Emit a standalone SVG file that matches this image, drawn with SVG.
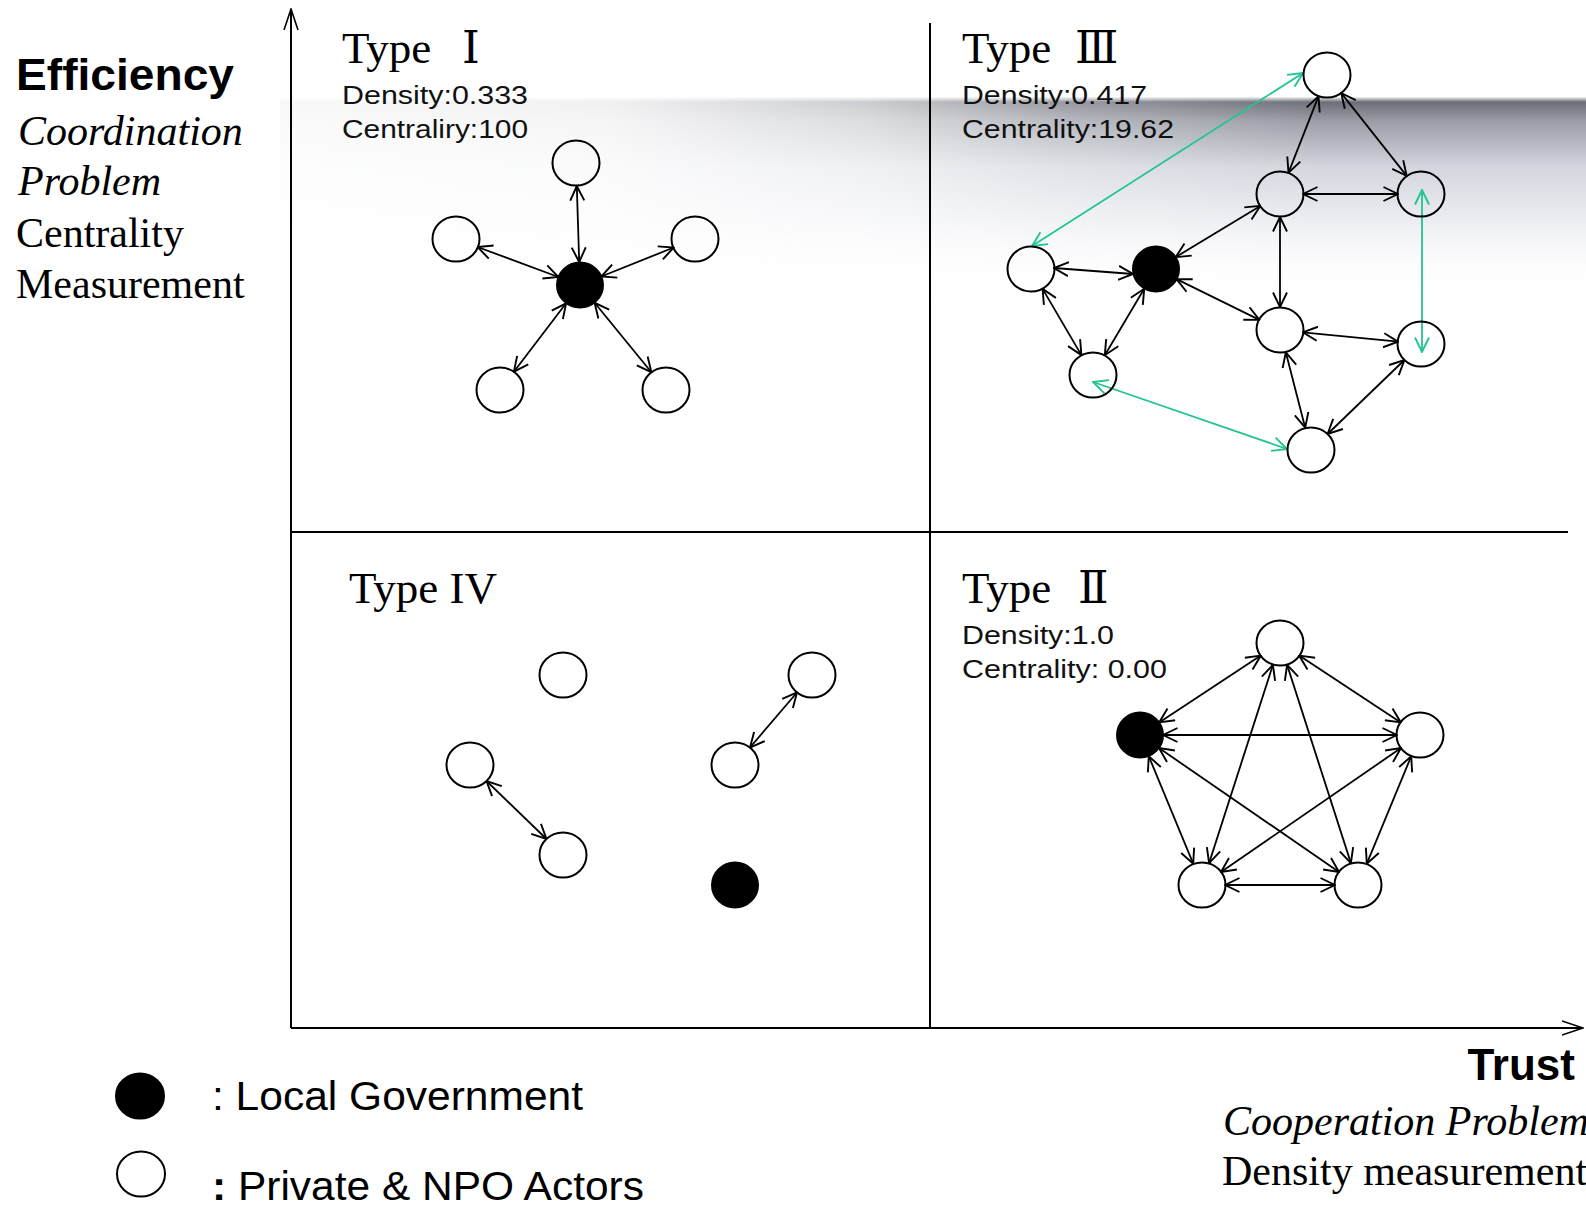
<svg xmlns="http://www.w3.org/2000/svg" width="1586" height="1209" viewBox="0 0 1586 1209">
<style>
.serif{font-family:"Liberation Serif","DejaVu Serif","Noto Sans CJK KR",serif;fill:#000}
.sans{font-family:"Liberation Sans","DejaVu Sans",sans-serif;fill:#000}
.title{font-size:45px}
.stat{font-size:26px;fill:#111}
.axis{font-size:42px}
.node{fill:none;stroke:#000;stroke-width:2}
.gov{fill:#000;stroke:#000;stroke-width:2}
.edge{stroke:#000;stroke-width:1.8;fill:none;marker-start:url(#ah);marker-end:url(#ah)}
.gedge{stroke:#22c493;stroke-width:1.8;fill:none;marker-start:url(#ahg);marker-end:url(#ahg)}
.frame{stroke:#000;stroke-width:2;fill:none}
</style>
<defs>
<marker id="ah" viewBox="0 0 16 16" refX="15" refY="8" markerWidth="16" markerHeight="16" markerUnits="userSpaceOnUse" orient="auto-start-reverse">
<path d="M0.5,1 L15,8 L0.5,15" fill="none" stroke="#000" stroke-width="1.9"/>
</marker>
<marker id="ahg" viewBox="0 0 16 16" refX="15" refY="8" markerWidth="16" markerHeight="16" markerUnits="userSpaceOnUse" orient="auto-start-reverse">
<path d="M0.5,1 L15,8 L0.5,15" fill="none" stroke="#22c493" stroke-width="1.9"/>
</marker>
<marker id="axh" viewBox="0 0 22 16" refX="21" refY="8" markerWidth="22" markerHeight="16" markerUnits="userSpaceOnUse" orient="auto">
<path d="M0,1 L21,8 L0,15" fill="none" stroke="#000" stroke-width="1.6"/>
</marker>
<linearGradient id="bandV" x1="0" y1="0" x2="0" y2="1">
<stop offset="0" stop-color="#f4f4f6"/>
<stop offset="0.025" stop-color="#6c6f78"/>
<stop offset="0.12" stop-color="#9a9da6"/>
<stop offset="0.35" stop-color="#d3d6de"/>
<stop offset="0.65" stop-color="#eff0f4"/>
<stop offset="1" stop-color="#ffffff" stop-opacity="0"/>
</linearGradient>
<linearGradient id="bandH" x1="0" y1="0" x2="1" y2="0">
<stop offset="0" stop-color="#fff" stop-opacity="0.05"/>
<stop offset="0.25" stop-color="#fff" stop-opacity="0.1"/>
<stop offset="0.45" stop-color="#fff" stop-opacity="0.35"/>
<stop offset="0.6" stop-color="#fff" stop-opacity="0.7"/>
<stop offset="0.8" stop-color="#fff" stop-opacity="1"/>
<stop offset="1" stop-color="#fff" stop-opacity="1"/>
</linearGradient>
<mask id="bandMask" maskUnits="userSpaceOnUse" x="280" y="95" width="1306" height="240">
<rect x="280" y="95" width="1306" height="240" fill="url(#bandH)"/>
</mask>
</defs>
<rect width="1586" height="1209" fill="#fff"/>
<g id="background-band" mask="url(#bandMask)">
<rect x="280" y="97" width="1306" height="200" fill="url(#bandV)"/>
</g>

<g id="axis-labels">
<text class="sans" x="16" y="90" font-size="45" font-weight="bold" textLength="218" lengthAdjust="spacingAndGlyphs">Efficiency</text>
<text class="serif axis" x="18" y="145" font-style="italic">Coordination</text>
<text class="serif axis" x="18" y="195" font-style="italic">Problem</text>
<text class="serif axis" x="16" y="247">Centrality</text>
<text class="serif axis" x="16" y="298">Measurement</text>
<text class="sans" x="1575" y="1080" font-size="44" font-weight="bold" text-anchor="end">Trust</text>
<text class="serif axis" x="1223" y="1135" font-style="italic">Cooperation Problem</text>
<text class="serif axis" x="1222" y="1185">Density measurement</text>
</g>

<g id="frame">
<line class="frame" x1="291" y1="1028" x2="291" y2="9" marker-end="url(#axh)"/>
<line class="frame" x1="291" y1="1028" x2="1583" y2="1028" marker-end="url(#axh)"/>
<line class="frame" x1="930" y1="23" x2="930" y2="1028"/>
<line class="frame" x1="291" y1="532" x2="1568" y2="532"/>
</g>

<g id="quadrant-labels">
<text class="serif title" x="342" y="63">Type <tspan x="462">Ⅰ</tspan></text>
<text class="sans stat" x="342" y="104" textLength="186" lengthAdjust="spacingAndGlyphs">Density:0.333</text>
<text class="sans stat" x="342" y="138" textLength="186" lengthAdjust="spacingAndGlyphs">Centraliry:100</text>
<text class="serif title" x="962" y="63">Type <tspan x="1075">Ⅲ</tspan></text>
<text class="sans stat" x="962" y="104" textLength="185" lengthAdjust="spacingAndGlyphs">Density:0.417</text>
<text class="sans stat" x="962" y="138" textLength="212" lengthAdjust="spacingAndGlyphs">Centrality:19.62</text>
<text class="serif title" x="349" y="603">Type IV</text>
<text class="serif title" x="962" y="603">Type <tspan x="1078">Ⅱ</tspan></text>
<text class="sans stat" x="962" y="644" textLength="152" lengthAdjust="spacingAndGlyphs">Density:1.0</text>
<text class="sans stat" x="962" y="678" textLength="205" lengthAdjust="spacingAndGlyphs">Centrality: 0.00</text>
</g>

<g id="connectors">
<!-- Type I -->
<line class="edge" x1="579.2" y1="262" x2="576.8" y2="186"/>
<line class="edge" x1="558.4" y1="277" x2="477.6" y2="247"/>
<line class="edge" x1="601.3" y1="276.5" x2="673.7" y2="247.5"/>
<line class="edge" x1="566.1" y1="303.3" x2="513.9" y2="371.7"/>
<line class="edge" x1="594.6" y1="302.8" x2="651.4" y2="372.2"/>
<!-- Type III -->
<line class="edge" x1="1318.5" y1="96.4" x2="1288.5" y2="172.6"/>
<line class="edge" x1="1341.3" y1="93.1" x2="1406.7" y2="175.9"/>
<line class="edge" x1="1303" y1="194" x2="1398" y2="194"/>
<line class="edge" x1="1260.3" y1="205.9" x2="1175.7" y2="257.1"/>
<line class="edge" x1="1280" y1="217" x2="1280" y2="307"/>
<line class="edge" x1="1133" y1="274" x2="1054" y2="268"/>
<line class="edge" x1="1176.6" y1="279.1" x2="1259.4" y2="319.9"/>
<line class="edge" x1="1144.2" y1="288.8" x2="1104.8" y2="355.2"/>
<line class="edge" x1="1042.6" y1="288.9" x2="1081.4" y2="355.1"/>
<line class="edge" x1="1302.9" y1="332.3" x2="1398.1" y2="341.7"/>
<line class="edge" x1="1285.8" y1="352.3" x2="1305.2" y2="427.7"/>
<line class="edge" x1="1404.4" y1="360" x2="1327.6" y2="434"/>
<line class="gedge" x1="1303" y1="73" x2="1032" y2="246"/>
<line class="gedge" x1="1422" y1="190" x2="1422" y2="352"/>
<line class="gedge" x1="1093" y1="382" x2="1287" y2="449"/>
<!-- Type II -->
<line class="edge" x1="1260.8" y1="655.6" x2="1159.2" y2="722.4"/>
<line class="edge" x1="1299.2" y1="655.6" x2="1400.8" y2="722.4"/>
<line class="edge" x1="1272.9" y1="664.9" x2="1209.1" y2="863.1"/>
<line class="edge" x1="1287.1" y1="664.9" x2="1350.9" y2="863.1"/>
<line class="edge" x1="1163" y1="735" x2="1397" y2="735"/>
<line class="edge" x1="1148.8" y1="756.3" x2="1193.2" y2="863.7"/>
<line class="edge" x1="1159" y1="748" x2="1339" y2="872"/>
<line class="edge" x1="1401" y1="748" x2="1221" y2="872"/>
<line class="edge" x1="1411.2" y1="756.3" x2="1366.8" y2="863.7"/>
<line class="edge" x1="1225" y1="885" x2="1335" y2="885"/>
<!-- Type IV -->
<line class="edge" x1="486.5" y1="781" x2="546.5" y2="839"/>
<line class="edge" x1="797" y1="692.5" x2="750" y2="747.5"/>
</g>

<g id="type1-nodes">
<g id="t1-center"><ellipse class="gov" cx="580" cy="285" rx="23" ry="22.5"/></g>
<g id="t1-top"><ellipse class="node" cx="576" cy="163" rx="23.5" ry="22.5"/></g>
<g id="t1-left"><ellipse class="node" cx="456" cy="239" rx="23.5" ry="22.5"/></g>
<g id="t1-right"><ellipse class="node" cx="695" cy="239" rx="23.5" ry="22.5"/></g>
<g id="t1-bottom-left"><ellipse class="node" cx="500" cy="390" rx="23.5" ry="22.5"/></g>
<g id="t1-bottom-right"><ellipse class="node" cx="666" cy="390" rx="23.5" ry="22.5"/></g>
</g>

<g id="type3-nodes">
<g id="t3-top"><ellipse class="node" cx="1327" cy="75" rx="23.5" ry="22.5"/></g>
<g id="t3-a"><ellipse class="node" cx="1280" cy="194" rx="23.5" ry="22.5"/></g>
<g id="t3-b"><ellipse class="node" cx="1421" cy="194" rx="23.5" ry="22.5"/></g>
<g id="t3-left"><ellipse class="node" cx="1031" cy="269" rx="23.5" ry="22.5"/></g>
<g id="t3-gov"><ellipse class="gov" cx="1156" cy="269" rx="23" ry="22.5"/></g>
<g id="t3-m"><ellipse class="node" cx="1280" cy="330" rx="23.5" ry="22.5"/></g>
<g id="t3-r"><ellipse class="node" cx="1421" cy="344" rx="23.5" ry="22.5"/></g>
<g id="t3-bl"><ellipse class="node" cx="1093" cy="375" rx="23.5" ry="22.5"/></g>
<g id="t3-bottom"><ellipse class="node" cx="1311" cy="450" rx="23.5" ry="22.5"/></g>
</g>

<g id="type4-nodes">
<g id="t4-a"><ellipse class="node" cx="563" cy="675" rx="23.5" ry="22.5"/></g>
<g id="t4-b"><ellipse class="node" cx="812" cy="675" rx="23.5" ry="22.5"/></g>
<g id="t4-c"><ellipse class="node" cx="470" cy="765" rx="23.5" ry="22.5"/></g>
<g id="t4-d"><ellipse class="node" cx="735" cy="765" rx="23.5" ry="22.5"/></g>
<g id="t4-e"><ellipse class="node" cx="563" cy="855" rx="23.5" ry="22.5"/></g>
<g id="t4-gov"><ellipse class="gov" cx="735" cy="885" rx="23" ry="22.5"/></g>
</g>

<g id="type2-nodes">
<g id="t2-top"><ellipse class="node" cx="1280" cy="643" rx="23.5" ry="22.5"/></g>
<g id="t2-gov"><ellipse class="gov" cx="1140" cy="735" rx="23" ry="22.5"/></g>
<g id="t2-right"><ellipse class="node" cx="1420" cy="735" rx="23.5" ry="22.5"/></g>
<g id="t2-bl"><ellipse class="node" cx="1202" cy="885" rx="23.5" ry="22.5"/></g>
<g id="t2-br"><ellipse class="node" cx="1358" cy="885" rx="23.5" ry="22.5"/></g>
</g>

<g id="legend">
<g id="legend-gov">
<ellipse class="gov" cx="140" cy="1096" rx="24" ry="22.5"/>
<text class="sans" x="212" y="1110" font-size="41" textLength="371" lengthAdjust="spacingAndGlyphs">: Local Government</text>
</g>
<g id="legend-actor">
<ellipse class="node" cx="141" cy="1174" rx="24" ry="22.5" fill="#fff"/>
<text class="sans" x="212" y="1200" font-size="40" textLength="432" lengthAdjust="spacingAndGlyphs"><tspan font-weight="bold">:</tspan> Private &amp; NPO Actors</text>
</g>
</g>
</svg>
